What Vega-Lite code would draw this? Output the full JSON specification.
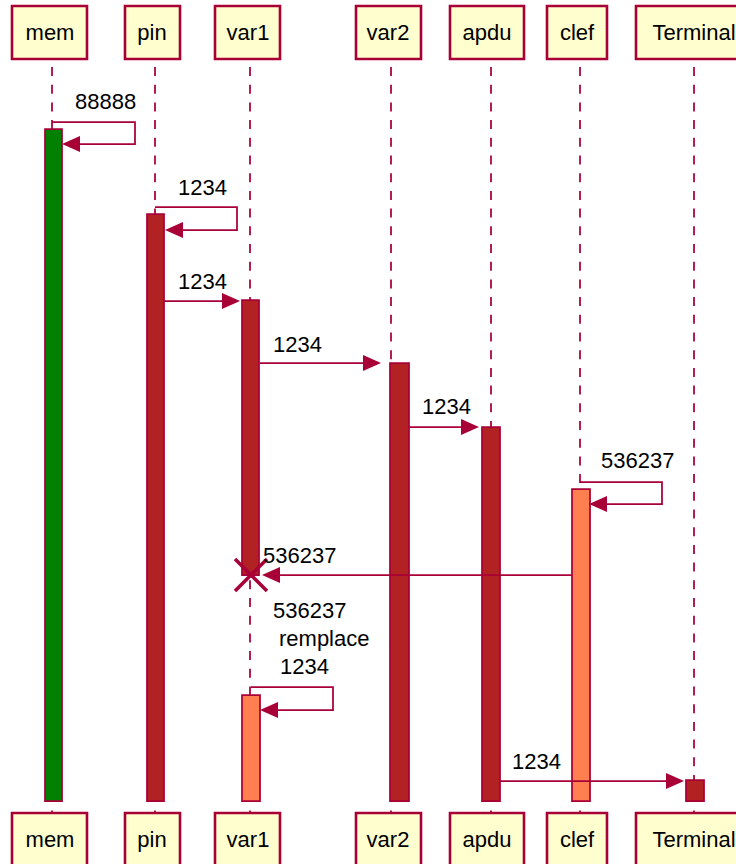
{
  "$schema": "https://vega.github.io/schema/vega-lite/v6.json",
  "width": 736,
  "height": 864,
  "padding": 0,
  "autosize": {"type": "none"},
  "background": "white",
  "config": {"view": {"stroke": null}},
  "datasets": {
    "participants": [
      {"name": "mem", "left": 12, "right": 87, "life": 52, "center": 50},
      {"name": "pin", "left": 125, "right": 180, "life": 155, "center": 152},
      {"name": "var1", "left": 215, "right": 280, "life": 250, "center": 248},
      {"name": "var2", "left": 356, "right": 421, "life": 391, "center": 388},
      {"name": "apdu", "left": 450, "right": 524, "life": 491, "center": 487},
      {"name": "clef", "left": 547, "right": 607, "life": 580, "center": 577},
      {"name": "Terminal", "left": 636, "right": 752, "life": 694, "center": 694}
    ],
    "bars": [
      {"who": "mem", "x": 45, "x2": 62, "y": 129, "y2": 801, "kind": "green"},
      {"who": "pin", "x": 147, "x2": 164, "y": 214, "y2": 801, "kind": "red"},
      {"who": "var1", "x": 242, "x2": 259, "y": 300, "y2": 575, "kind": "red"},
      {"who": "var2", "x": 390, "x2": 409, "y": 363, "y2": 801, "kind": "red"},
      {"who": "apdu", "x": 482, "x2": 500, "y": 427, "y2": 801, "kind": "red"},
      {"who": "clef", "x": 572, "x2": 590, "y": 489, "y2": 801, "kind": "coral"},
      {"who": "var1", "x": 242, "x2": 260, "y": 695, "y2": 801, "kind": "coral"},
      {"who": "Terminal", "x": 686, "x2": 704, "y": 780, "y2": 801, "kind": "red"}
    ],
    "segments": [
      {"msg": 1, "ord": 1, "x": 52, "y": 122},
      {"msg": 1, "ord": 2, "x": 135, "y": 122},
      {"msg": 1, "ord": 3, "x": 135, "y": 144},
      {"msg": 1, "ord": 4, "x": 70, "y": 144},
      {"msg": 2, "ord": 1, "x": 155, "y": 207},
      {"msg": 2, "ord": 2, "x": 237, "y": 207},
      {"msg": 2, "ord": 3, "x": 237, "y": 230},
      {"msg": 2, "ord": 4, "x": 173, "y": 230},
      {"msg": 3, "ord": 1, "x": 164, "y": 301},
      {"msg": 3, "ord": 2, "x": 232, "y": 301},
      {"msg": 4, "ord": 1, "x": 260, "y": 363},
      {"msg": 4, "ord": 2, "x": 372, "y": 363},
      {"msg": 5, "ord": 1, "x": 409, "y": 427},
      {"msg": 5, "ord": 2, "x": 471, "y": 427},
      {"msg": 6, "ord": 1, "x": 580, "y": 482},
      {"msg": 6, "ord": 2, "x": 662, "y": 482},
      {"msg": 6, "ord": 3, "x": 662, "y": 504},
      {"msg": 6, "ord": 4, "x": 597, "y": 504},
      {"msg": 7, "ord": 1, "x": 572, "y": 575},
      {"msg": 7, "ord": 2, "x": 270, "y": 575},
      {"msg": 8, "ord": 1, "x": 251, "y": 687},
      {"msg": 8, "ord": 2, "x": 333, "y": 687},
      {"msg": 8, "ord": 3, "x": 333, "y": 710},
      {"msg": 8, "ord": 4, "x": 268, "y": 710},
      {"msg": 9, "ord": 1, "x": 500, "y": 781},
      {"msg": 9, "ord": 2, "x": 675, "y": 781}
    ],
    "arrows": [
      {"msg": 1, "dir": "left", "x": 62, "y": 144},
      {"msg": 2, "dir": "left", "x": 165, "y": 230},
      {"msg": 3, "dir": "right", "x": 240, "y": 301},
      {"msg": 4, "dir": "right", "x": 381, "y": 363},
      {"msg": 5, "dir": "right", "x": 479, "y": 427},
      {"msg": 6, "dir": "left", "x": 589, "y": 504},
      {"msg": 7, "dir": "left", "x": 262, "y": 575},
      {"msg": 8, "dir": "left", "x": 260, "y": 710},
      {"msg": 9, "dir": "right", "x": 684, "y": 781}
    ],
    "destroy": [
      {"who": "var1", "x": 251, "y": 575}
    ],
    "labels": [
      {"text": "88888", "x": 75, "y": 109},
      {"text": "1234", "x": 178, "y": 195},
      {"text": "1234", "x": 178, "y": 289},
      {"text": "1234", "x": 273, "y": 352},
      {"text": "1234", "x": 422, "y": 414},
      {"text": "536237", "x": 601, "y": 468},
      {"text": "536237", "x": 263, "y": 563},
      {"text": "536237", "x": 273, "y": 618},
      {"text": "remplace", "x": 279, "y": 646},
      {"text": "1234", "x": 280, "y": 674},
      {"text": "1234", "x": 512, "y": 769}
    ]
  },
  "layer": [
    {
      "data": {"name": "participants"},
      "mark": {"type": "rule", "color": "#A80036", "strokeWidth": 1.75, "strokeDash": [9, 8.7]},
      "encoding": {
        "x": {"field": "life", "type": "quantitative", "scale": {"domain": [0, 736], "nice": false, "zero": false}, "axis": null},
        "y": {"datum": 67, "type": "quantitative", "scale": {"domain": [0, 864], "reverse": true, "nice": false, "zero": false}, "axis": null},
        "y2": {"datum": 813}
      }
    },
    {
      "data": {"name": "participants"},
      "mark": {"type": "rect", "fill": "#FEFECE", "stroke": "#A80036", "strokeWidth": 2.6},
      "encoding": {
        "x": {"field": "left", "type": "quantitative", "axis": null},
        "x2": {"field": "right"},
        "y": {"datum": 6, "type": "quantitative", "axis": null},
        "y2": {"datum": 59}
      }
    },
    {
      "data": {"name": "participants"},
      "mark": {"type": "rect", "fill": "#FEFECE", "stroke": "#A80036", "strokeWidth": 2.6},
      "encoding": {
        "x": {"field": "left", "type": "quantitative", "axis": null},
        "x2": {"field": "right"},
        "y": {"datum": 813, "type": "quantitative", "axis": null},
        "y2": {"datum": 870}
      }
    },
    {
      "data": {"name": "participants"},
      "mark": {"type": "text", "font": "Liberation Sans", "fontSize": 22, "color": "black", "align": "center", "baseline": "alphabetic"},
      "encoding": {
        "x": {"field": "center", "type": "quantitative", "axis": null},
        "y": {"datum": 40, "type": "quantitative", "axis": null},
        "text": {"field": "name"}
      }
    },
    {
      "data": {"name": "participants"},
      "mark": {"type": "text", "font": "Liberation Sans", "fontSize": 22, "color": "black", "align": "center", "baseline": "alphabetic"},
      "encoding": {
        "x": {"field": "center", "type": "quantitative", "axis": null},
        "y": {"datum": 847, "type": "quantitative", "axis": null},
        "text": {"field": "name"}
      }
    },
    {
      "data": {"name": "bars"},
      "mark": {"type": "rect", "stroke": "#A80036", "strokeWidth": 1.75, "opacity": 1},
      "encoding": {
        "x": {"field": "x", "type": "quantitative", "axis": null},
        "x2": {"field": "x2"},
        "y": {"field": "y", "type": "quantitative", "axis": null},
        "y2": {"field": "y2"},
        "fill": {"field": "kind", "type": "nominal", "scale": {"domain": ["green", "red", "coral"], "range": ["#008000", "#B22222", "#FF7F50"]}, "legend": null}
      }
    },
    {
      "data": {"name": "segments"},
      "mark": {"type": "line", "color": "#A80036", "strokeWidth": 1.75, "interpolate": "linear"},
      "encoding": {
        "x": {"field": "x", "type": "quantitative", "axis": null},
        "y": {"field": "y", "type": "quantitative", "axis": null},
        "detail": {"field": "msg", "type": "nominal"},
        "order": {"field": "ord", "type": "quantitative"}
      }
    },
    {
      "data": {"name": "arrows"},
      "transform": [{"filter": "datum.dir === 'right'"}],
      "mark": {"type": "point", "shape": "M0,0L-1,-0.444L-1,0.444Z", "filled": true, "fill": "#A80036", "strokeWidth": 0, "opacity": 1, "size": 1296},
      "encoding": {
        "x": {"field": "x", "type": "quantitative", "axis": null},
        "y": {"field": "y", "type": "quantitative", "axis": null}
      }
    },
    {
      "data": {"name": "arrows"},
      "transform": [{"filter": "datum.dir === 'left'"}],
      "mark": {"type": "point", "shape": "M0,0L1,-0.444L1,0.444Z", "filled": true, "fill": "#A80036", "strokeWidth": 0, "opacity": 1, "size": 1296},
      "encoding": {
        "x": {"field": "x", "type": "quantitative", "axis": null},
        "y": {"field": "y", "type": "quantitative", "axis": null}
      }
    },
    {
      "data": {"name": "destroy"},
      "mark": {"type": "point", "shape": "M-1,-1L1,1M-1,1L1,-1", "filled": false, "stroke": "#A80036", "strokeWidth": 3.5, "opacity": 1, "size": 1024},
      "encoding": {
        "x": {"field": "x", "type": "quantitative", "axis": null},
        "y": {"field": "y", "type": "quantitative", "axis": null}
      }
    },
    {
      "data": {"name": "labels"},
      "mark": {"type": "text", "font": "Liberation Sans", "fontSize": 22, "color": "black", "align": "left", "baseline": "alphabetic"},
      "encoding": {
        "x": {"field": "x", "type": "quantitative", "axis": null},
        "y": {"field": "y", "type": "quantitative", "axis": null},
        "text": {"field": "text"}
      }
    }
  ]
}
